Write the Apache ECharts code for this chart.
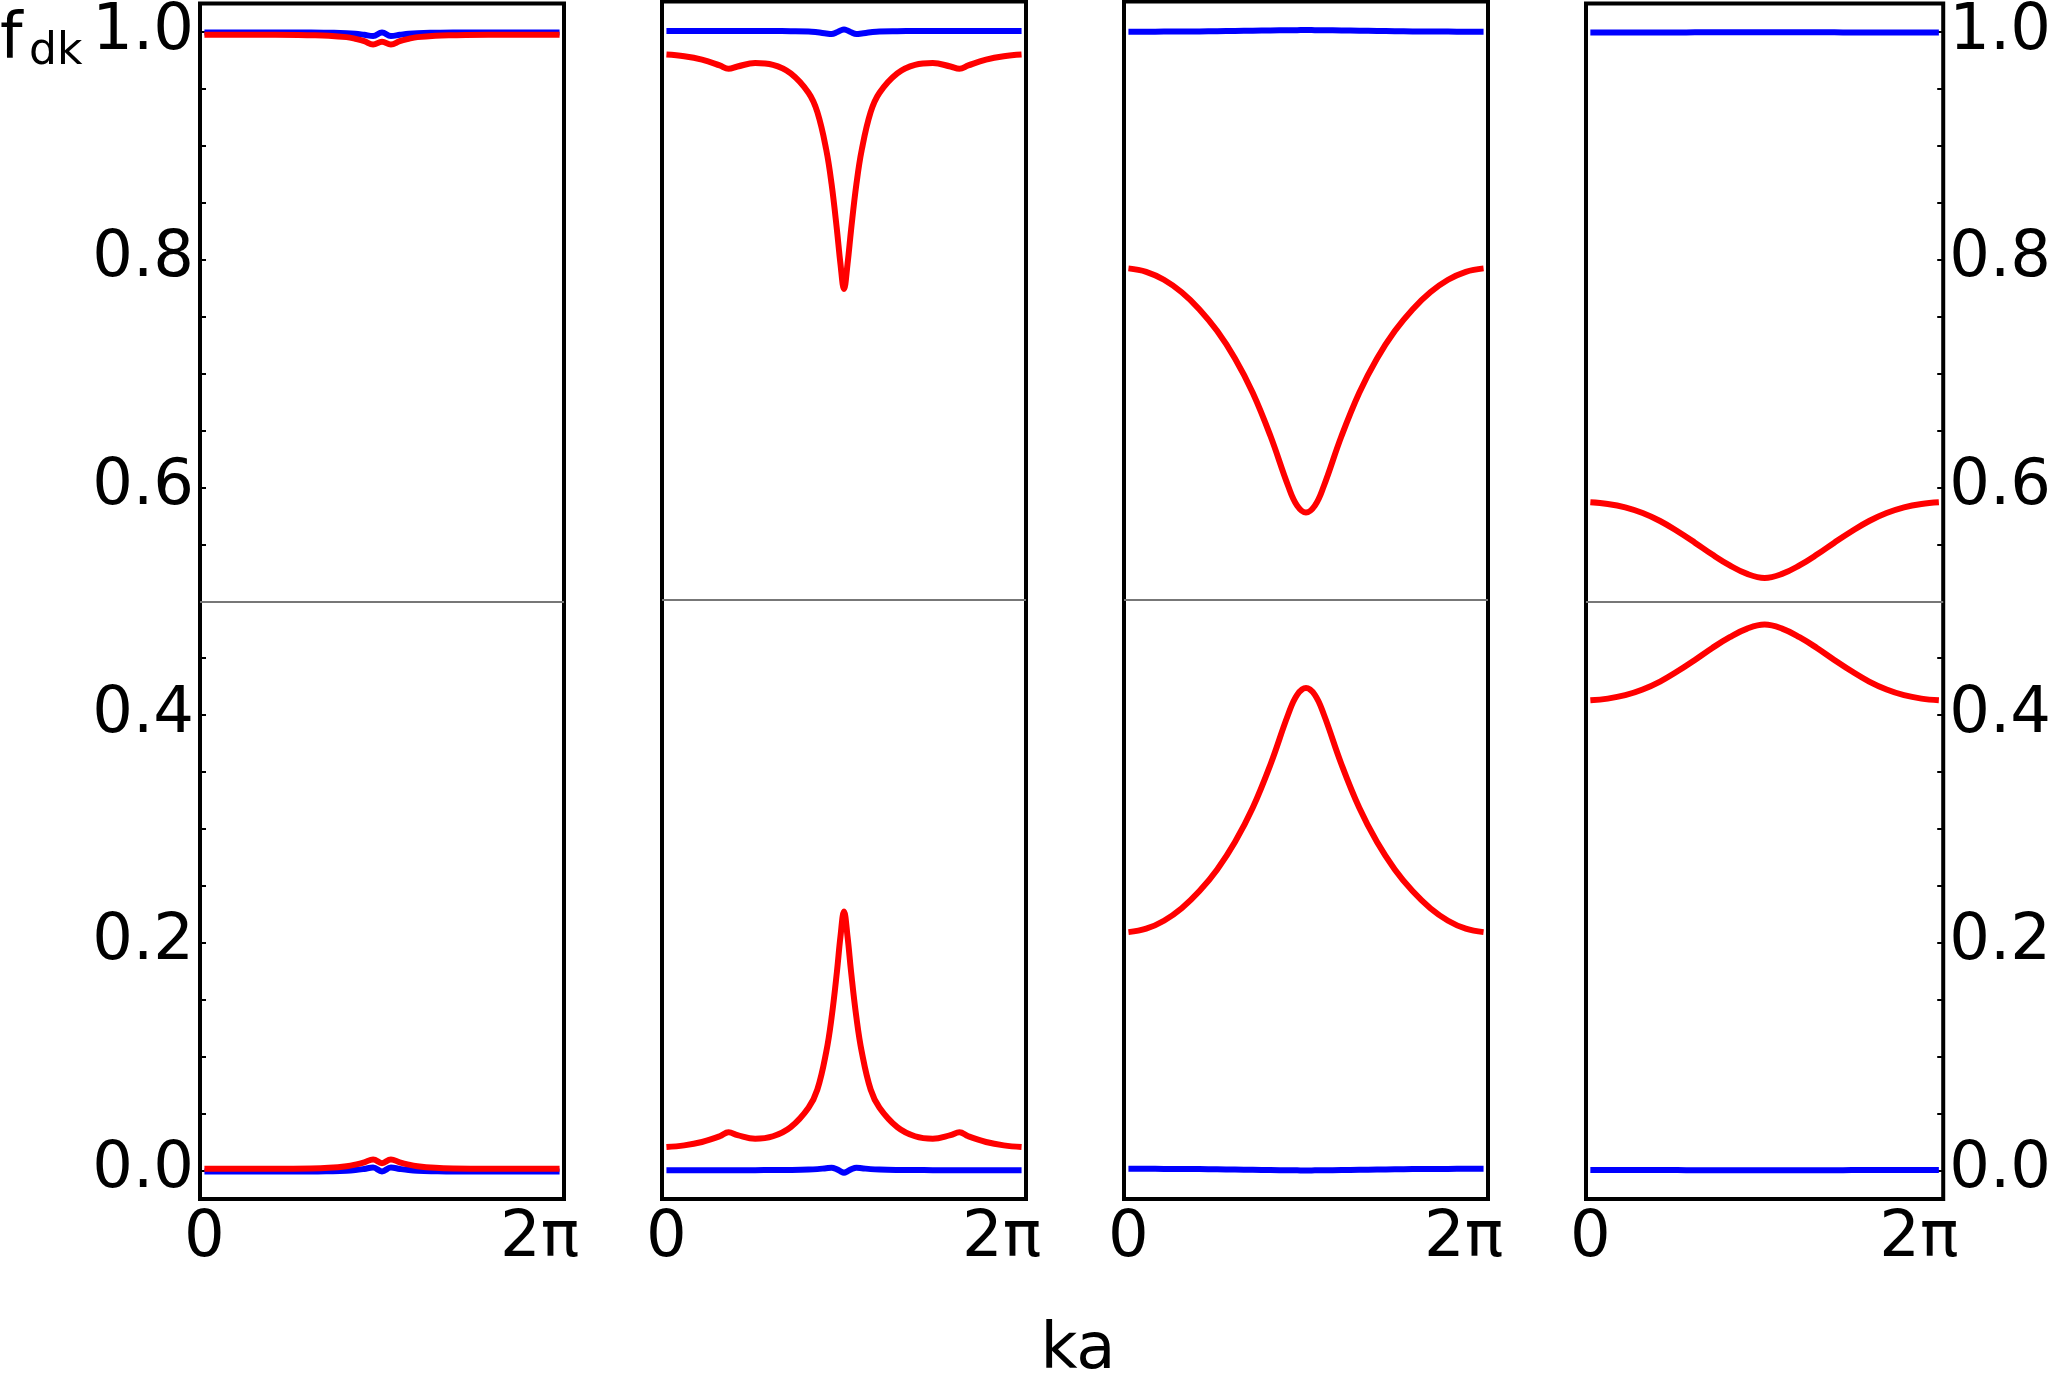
<!DOCTYPE html>
<html>
<head>
<meta charset="utf-8">
<script src="https://cdn.jsdelivr.net/npm/echarts@6/dist/echarts.min.js"></script>
<style>
  html, body { margin: 0; padding: 0; background: #fff; }
  #chart { width: 2054px; height: 1376px; }
</style>
</head>
<body>
<div id="chart"></div>
<script>
// ka values are in units of pi (0 .. 2)
const p1Ka = [0, 0.2, 0.4, 0.6, 0.7, 0.8, 0.85, 0.9, 0.95, 1.0, 1.05, 1.1, 1.15, 1.2, 1.3, 1.4, 1.6, 1.8, 2.0];
const p1BlueTop = [0.9995, 0.9995, 0.9995, 0.9995, 0.9993, 0.999, 0.9985, 0.9975, 0.9965, 0.9995, 0.9965, 0.9975, 0.9985, 0.999, 0.9993, 0.9995, 0.9995, 0.9995, 0.9995];
const p1RedTop = [0.9975, 0.9975, 0.9975, 0.9972, 0.9968, 0.9955, 0.994, 0.992, 0.989, 0.9915, 0.989, 0.992, 0.994, 0.9955, 0.9968, 0.9972, 0.9975, 0.9975, 0.9975];
const p1RedBot = [0.0015, 0.0015, 0.0015, 0.0018, 0.0024, 0.0038, 0.0052, 0.0072, 0.0098, 0.0065, 0.0098, 0.0072, 0.0052, 0.0038, 0.0024, 0.0018, 0.0015, 0.0015, 0.0015];
const p1BlueBot = [-0.0008, -0.0008, -0.0008, -0.0008, -0.0006, -0.0002, 0.0004, 0.0014, 0.0026, -0.0008, 0.0026, 0.0014, 0.0004, -0.0002, -0.0006, -0.0008, -0.0008, -0.0008, -0.0008];

const p2Ka = [0, 0.1, 0.2, 0.3, 0.35, 0.4, 0.5, 0.6, 0.7, 0.8, 0.85, 0.9, 0.93, 0.96, 0.98, 1.0, 1.02, 1.04, 1.07, 1.1, 1.15, 1.2, 1.3, 1.4, 1.5, 1.6, 1.65, 1.7, 1.8, 1.9, 2.0];
const p2BlueTop = [0.9992, 0.9992, 0.9992, 0.9992, 0.9992, 0.9992, 0.9992, 0.9991, 0.999, 0.9987, 0.998, 0.997, 0.9965, 0.998, 0.9995, 1.0005, 0.9995, 0.998, 0.9965, 0.997, 0.998, 0.9987, 0.999, 0.9991, 0.9992, 0.9992, 0.9992, 0.9992, 0.9992, 0.9992, 0.9992];
const p2RedTop = [0.9785, 0.977, 0.974, 0.969, 0.966, 0.968, 0.971, 0.9695, 0.962, 0.945, 0.928, 0.895, 0.865, 0.825, 0.795, 0.773, 0.795, 0.825, 0.865, 0.895, 0.928, 0.945, 0.962, 0.9695, 0.971, 0.968, 0.966, 0.969, 0.974, 0.977, 0.9785];
const p2RedBot = [0.0205, 0.022, 0.025, 0.030, 0.0335, 0.031, 0.0278, 0.030, 0.038, 0.055, 0.071, 0.104, 0.134, 0.174, 0.205, 0.227, 0.205, 0.174, 0.134, 0.104, 0.071, 0.055, 0.038, 0.030, 0.0278, 0.031, 0.0335, 0.030, 0.025, 0.022, 0.0205];
const p2BlueBot = [0.0003, 0.0003, 0.0003, 0.0003, 0.0003, 0.0003, 0.0003, 0.0004, 0.0005, 0.0008, 0.0012, 0.002, 0.0024, 0.001, -0.0006, -0.002, -0.0006, 0.001, 0.0024, 0.002, 0.0012, 0.0008, 0.0005, 0.0004, 0.0003, 0.0003, 0.0003, 0.0003, 0.0003, 0.0003, 0.0003];

const p3Ka = [0, 0.1, 0.2, 0.3, 0.4, 0.5, 0.6, 0.7, 0.8, 0.9, 0.95, 1.0, 1.05, 1.1, 1.2, 1.3, 1.4, 1.5, 1.6, 1.7, 1.8, 1.9, 2.0];
const p3BlueTop = [0.9985, 0.9985, 0.9986, 0.9987, 0.9988, 0.999, 0.9992, 0.9994, 0.9996, 0.9998, 0.9999, 1.0, 0.9999, 0.9998, 0.9996, 0.9994, 0.9992, 0.999, 0.9988, 0.9987, 0.9986, 0.9985, 0.9985];
const p3RedTop = [0.791, 0.788, 0.781, 0.770, 0.755, 0.736, 0.712, 0.682, 0.644, 0.600, 0.583, 0.577, 0.583, 0.600, 0.644, 0.682, 0.712, 0.736, 0.755, 0.770, 0.781, 0.788, 0.791];
const p3RedBot = [0.209, 0.212, 0.219, 0.230, 0.245, 0.264, 0.288, 0.318, 0.356, 0.400, 0.417, 0.423, 0.417, 0.400, 0.356, 0.318, 0.288, 0.264, 0.245, 0.230, 0.219, 0.212, 0.209];
const p3BlueBot = [0.0015, 0.0015, 0.0014, 0.0013, 0.0012, 0.001, 0.0008, 0.0006, 0.0004, 0.0002, 0.0001, 0.0, 0.0001, 0.0002, 0.0004, 0.0006, 0.0008, 0.001, 0.0012, 0.0013, 0.0014, 0.0015, 0.0015];

const p4Ka = [0, 0.1, 0.2, 0.3, 0.4, 0.5, 0.6, 0.7, 0.8, 0.9, 1.0, 1.1, 1.2, 1.3, 1.4, 1.5, 1.6, 1.7, 1.8, 1.9, 2.0];
const p4BlueTop = [0.9995, 0.9995, 0.9995, 0.9995, 0.9996, 0.9996, 0.9997, 0.9997, 0.9998, 0.9998, 0.9998, 0.9998, 0.9998, 0.9997, 0.9997, 0.9996, 0.9996, 0.9995, 0.9995, 0.9995, 0.9995];
const p4RedTop = [0.587, 0.5855, 0.5825, 0.5775, 0.5705, 0.5615, 0.5515, 0.541, 0.5315, 0.524, 0.5205, 0.524, 0.5315, 0.541, 0.5515, 0.5615, 0.5705, 0.5775, 0.5825, 0.5855, 0.587];
const p4RedBot = [0.413, 0.4145, 0.4175, 0.4225, 0.4295, 0.4385, 0.4485, 0.459, 0.4685, 0.476, 0.4795, 0.476, 0.4685, 0.459, 0.4485, 0.4385, 0.4295, 0.4225, 0.4175, 0.4145, 0.413];
const p4BlueBot = [0.0005, 0.0005, 0.0005, 0.0005, 0.0004, 0.0004, 0.0003, 0.0003, 0.0002, 0.0002, 0.0002, 0.0002, 0.0002, 0.0003, 0.0003, 0.0004, 0.0004, 0.0005, 0.0005, 0.0005, 0.0005];

const yLabelValues = [0, 0.2, 0.4, 0.6, 0.8, 1.0];
const yTickValues = [0, 0.05, 0.1, 0.15, 0.2, 0.25, 0.3, 0.35, 0.4, 0.45, 0.5, 0.55, 0.6, 0.65, 0.7, 0.75, 0.8, 0.85, 0.9, 0.95, 1.0];
const xLabelValues = [0, 2];
const xLabelTexts = ['0', '2π'];

const panels = [
  { ka: p1Ka, blue: [p1BlueTop, p1BlueBot], red: [p1RedTop, p1RedBot] },
  { ka: p2Ka, blue: [p2BlueTop, p2BlueBot], red: [p2RedTop, p2RedBot] },
  { ka: p3Ka, blue: [p3BlueTop, p3BlueBot], red: [p3RedTop, p3RedBot] },
  { ka: p4Ka, blue: [p4BlueTop, p4BlueBot], red: [p4RedTop, p4RedBot] },
];

const FONT = 'DejaVu Sans';
const chart = echarts.init(document.getElementById('chart'));

const pairs = (xs, ys) => xs.map((x, i) => [x, ys[i]]);

const series = [];
panels.forEach((p, i) => {
  const lines = [
    ...p.blue.map(ys => ({ ys, color: '#0000ff' })),
    ...p.red.map(ys => ({ ys, color: '#ff0000' })),
  ];
  lines.forEach((l, j) => {
    const s = {
      type: 'line',
      xAxisIndex: i,
      yAxisIndex: i,
      data: pairs(p.ka, l.ys),
      showSymbol: false,
      smooth: 0.4,
      lineStyle: { color: l.color, width: 6 },
      z: 3 + j,
    };
    if (j === 0) {
      // thin gray line at half filling
      s.markLine = {
        silent: true,
        symbol: 'none',
        label: { show: false },
        lineStyle: { color: '#777', width: 1.8, type: 'solid' },
        data: [{ yAxis: 0.5 }],
        animation: false,
      };
    }
    series.push(s);
  });
});

const option = {
  animation: false,
  backgroundColor: '#fff',
  grid: panels.map((p, i) => ({
    left: 200 + i * 462,
    top: 1.5,
    width: 364,
    height: 1197.5,
    show: true,
    borderColor: '#000',
    borderWidth: 4,
    backgroundColor: 'transparent',
  })),
  xAxis: panels.map((p, i) => ({
    type: 'value',
    gridIndex: i,
    min: -0.025,
    max: 2.025,
    splitLine: { show: false },
    axisLine: { show: false, onZero: false },
    axisTick: { show: false },
    axisLabel: {
      customValues: xLabelValues,
      formatter: v => (v === 0 ? xLabelTexts[0] : '{r|' + xLabelTexts[1] + '}'),
      fontSize: 64,
      fontFamily: FONT,
      color: '#000',
      margin: 8,
      rich: { r: { fontSize: 64, fontFamily: FONT, color: '#000', padding: [0, 40, 0, 0] } },
    },
  })),
  yAxis: panels.map((p, i) => {
    const outer = i === 0 || i === 3;
    return {
      type: 'value',
      gridIndex: i,
      min: -0.025,
      max: 1.025,
      position: i === 3 ? 'right' : 'left',
      splitLine: { show: false },
      axisLine: { show: false, onZero: false },
      axisTick: {
        show: outer,
        inside: true,
        length: 6,
        customValues: yTickValues,
        lineStyle: { color: '#000', width: 2 },
      },
      axisLabel: {
        show: outer,
        customValues: yLabelValues,
        formatter: v => v.toFixed(1),
        fontSize: 64,
        fontFamily: FONT,
        color: '#000',
        margin: 6,
      },
    };
  }),
  graphic: [
    { type: 'text', x: 0, y: 41, style: { text: 'f', font: '64px "DejaVu Sans"', fill: '#000', verticalAlign: 'middle' } },
    { type: 'text', x: 29, y: 53, style: { text: 'dk', font: '44px "DejaVu Sans"', fill: '#000', verticalAlign: 'middle' } },
    { type: 'text', x: 1078, y: 1351, style: { text: 'ka', font: '64px "DejaVu Sans"', fill: '#000', align: 'center', verticalAlign: 'middle' } },
  ],
  series,
};

chart.setOption(option);
</script>
</body>
</html>
